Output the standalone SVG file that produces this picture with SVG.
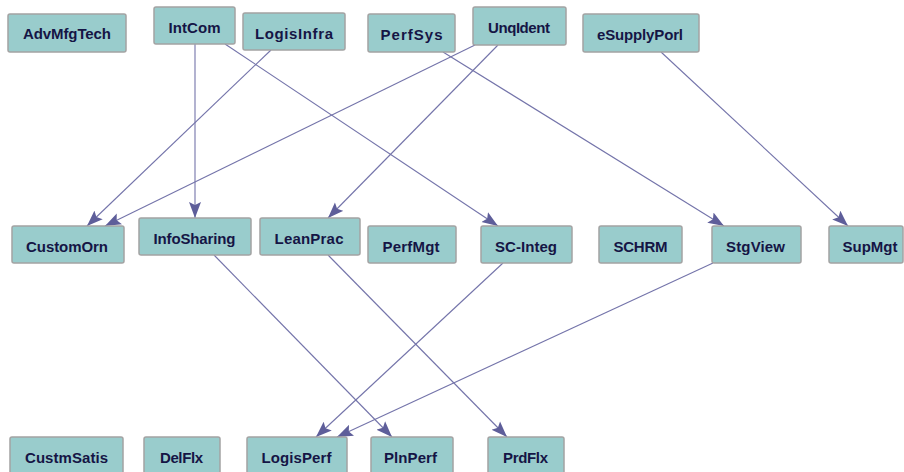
<svg xmlns="http://www.w3.org/2000/svg" width="904" height="472" viewBox="0 0 904 472">
<defs>
<marker id="arr" markerUnits="userSpaceOnUse" markerWidth="18" markerHeight="13" refX="16" refY="6.5" orient="auto" viewBox="0 0 18 13">
<path d="M0,0.5 L16,6.5 L0,12.5 L3,6.5 z" fill="#5e5e9a"/>
</marker>
<style>
.n rect{fill:#99cccc;stroke:#a3a3a3;stroke-width:1.5}
.n text{font-family:"Liberation Sans",Arial,sans-serif;font-weight:bold;font-size:15px;fill:#151545;text-anchor:middle}
.e line{stroke:#7474aa;stroke-width:1.1;marker-end:url(#arr)}
</style>
</defs>
<rect width="904" height="472" fill="#ffffff"/>
<g id="connectors" class="e">
<line x1="195" y1="44" x2="195" y2="218"/>
<line x1="225" y1="44" x2="498" y2="226"/>
<line x1="271" y1="50" x2="87" y2="226"/>
<line x1="475" y1="45" x2="105" y2="226"/>
<line x1="498" y1="45" x2="328" y2="218"/>
<line x1="443" y1="52" x2="724" y2="226"/>
<line x1="661" y1="52" x2="848" y2="226"/>
<line x1="214" y1="255" x2="392" y2="437"/>
<line x1="328" y1="255" x2="507" y2="437"/>
<line x1="503" y1="263" x2="316" y2="437"/>
<line x1="713" y1="263" x2="337" y2="437"/>
</g>
<g id="AdvMfgTech" class="n"><rect x="8" y="14" width="118" height="38" rx="2"/><text x="67" y="39" textLength="88">AdvMfgTech</text></g>
<g id="IntCom" class="n"><rect x="154" y="7" width="81" height="37" rx="2"/><text x="194.5" y="33" textLength="52">IntCom</text></g>
<g id="LogisInfra" class="n"><rect x="243" y="13" width="102" height="37" rx="2"/><text x="294" y="39" textLength="78">LogisInfra</text></g>
<g id="PerfSys" class="n"><rect x="368" y="14" width="87" height="38" rx="2"/><text x="411.5" y="40" textLength="62">PerfSys</text></g>
<g id="UnqIdent" class="n"><rect x="473" y="7" width="93" height="38" rx="2"/><text x="519" y="33" textLength="62">UnqIdent</text></g>
<g id="eSupplyPorl" class="n"><rect x="583" y="14" width="116" height="38" rx="2"/><text x="640" y="40" textLength="86">eSupplyPorl</text></g>
<g id="CustomOrn" class="n"><rect x="12" y="226" width="112" height="37" rx="2"/><text x="67" y="252" textLength="82">CustomOrn</text></g>
<g id="InfoSharing" class="n"><rect x="139" y="218" width="112" height="37" rx="2"/><text x="194.5" y="244" textLength="82">InfoSharing</text></g>
<g id="LeanPrac" class="n"><rect x="260" y="218" width="100" height="37" rx="2"/><text x="309" y="244" textLength="69">LeanPrac</text></g>
<g id="PerfMgt" class="n"><rect x="368" y="226" width="88" height="37" rx="2"/><text x="411" y="252" textLength="57">PerfMgt</text></g>
<g id="SC-Integ" class="n"><rect x="481" y="226" width="91" height="37" rx="2"/><text x="526" y="252" textLength="62">SC-Integ</text></g>
<g id="SCHRM" class="n"><rect x="599" y="226" width="83" height="37" rx="2"/><text x="640.5" y="252" textLength="54">SCHRM</text></g>
<g id="StgView" class="n"><rect x="712" y="226" width="89" height="37" rx="2"/><text x="755.5" y="252" textLength="59">StgView</text></g>
<g id="SupMgt" class="n"><rect x="829" y="226" width="74" height="37" rx="2"/><text x="870" y="252" textLength="55">SupMgt</text></g>
<g id="CustmSatis" class="n"><rect x="10" y="437" width="113" height="40" rx="2"/><text x="66.5" y="463" textLength="83">CustmSatis</text></g>
<g id="DelFlx" class="n"><rect x="144" y="437" width="76" height="40" rx="2"/><text x="181.5" y="463" textLength="43">DelFlx</text></g>
<g id="LogisPerf" class="n"><rect x="247" y="437" width="100" height="40" rx="2"/><text x="296.5" y="463" textLength="70">LogisPerf</text></g>
<g id="PlnPerf" class="n"><rect x="371" y="437" width="82" height="40" rx="2"/><text x="410.5" y="463" textLength="53">PlnPerf</text></g>
<g id="PrdFlx" class="n"><rect x="488" y="437" width="76" height="40" rx="2"/><text x="525.5" y="463" textLength="45">PrdFlx</text></g>
</svg>
